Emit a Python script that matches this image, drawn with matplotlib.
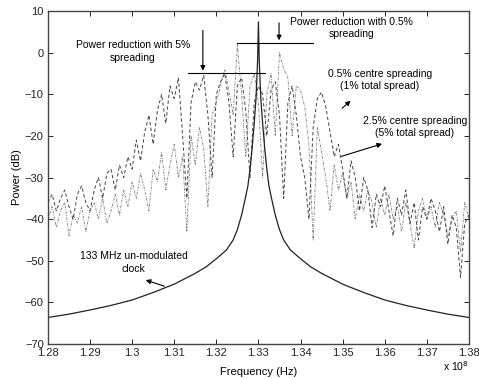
import matplotlib
matplotlib.use("Agg")
import matplotlib.pyplot as plt
import numpy as np

plt.rcParams['font.family'] = ['Liberation Sans', 'DejaVu Sans']

# frequency axis in units of 1e8 Hz
freq = np.round(np.arange(1.280, 1.3805, 0.001), 3)

# dashed trace (wide spreading)
spread_wide = [
    -36, -34, -38, -35, -33, -37, -40, -34, -32, -36, -38,
    -33, -30, -35, -29, -28, -33, -27, -30, -25, -28,
    -21, -26, -19, -15, -22, -14, -10, -17, -8, -11,
    -6, -20, -35, -12, -7, -9, -5.5, -15, -30, -10,
    -7, -5, -12, -25, -8, -6, -14, -30, -12, -8,
    -10, -20, -9, -7, -15, -35, -12, -8, -15, -25,
    -30, -40, -18, -11, -9.5, -13, -19, -25, -22, -28,
    -35, -26, -30, -38, -30, -33, -42, -34, -37, -32,
    -38, -44, -35, -39, -33, -41, -36, -45, -37, -40,
    -35, -38, -43, -37, -46, -39, -42, -54, -41, -39,
]

# dash-dot trace (narrow spreading)
spread_narrow = [
    -40, -37, -42, -38, -36, -44, -39, -41, -37, -43, -38,
    -36, -40, -35, -41, -38, -34, -39, -33, -37, -31,
    -35, -29, -33, -38, -28, -31, -24, -33, -27, -22,
    -30, -25, -43, -20, -27, -18, -23, -37, -15, -12,
    -8, -4, -9, -15, 2, -10, -25, -8, -5, -12,
    -30, -10, -5, -20, 0, -4, -6, -20, -8, -9,
    -13, -22, -45, -18, -24, -30, -38, -27, -33, -29,
    -35, -31, -40, -34, -38, -33, -36, -42, -35, -39,
    -34, -40, -37, -43, -36, -41, -47, -38, -35, -40,
    -37, -42, -36, -39, -44, -40, -38, -48, -36, -40,
]

# un-modulated clock line
clock_freq = [1.280, 1.285, 1.290, 1.295, 1.300, 1.305, 1.310, 1.3150, 1.3175,
              1.3200, 1.3224, 1.3240, 1.3250, 1.3260, 1.3268, 1.3275, 1.3280,
              1.3285, 1.3290, 1.3294, 1.3296, 1.3298, 1.3300, 1.3302, 1.3304,
              1.3306, 1.3310, 1.3315, 1.3320, 1.3325, 1.3332, 1.3340, 1.3350,
              1.3360, 1.3376, 1.3400, 1.3425, 1.3450, 1.3500, 1.3550, 1.3600,
              1.3650, 1.3700, 1.3750, 1.3800]
clock_db = [-63.6, -62.8, -61.8, -60.7, -59.4, -57.6, -55.6, -53.0, -51.5,
            -49.5, -47.4, -45.0, -42.5, -39.0, -35.4, -32.0, -28.0,
            -23.0, -17.0, -11.4, -7.0, -2.0, 7.4, -2.0, -7.0,
            -11.4, -17.0, -23.0, -28.0, -32.0, -35.4, -39.0, -42.5,
            -45.0, -47.4, -49.5, -51.5, -53.0, -55.6, -57.6, -59.4,
            -60.7, -61.8, -62.8, -63.6]

fig = plt.figure(figsize=(4.79, 3.79), dpi=100)
ax = fig.add_axes([0.100, 0.092, 0.879, 0.879])

ax.plot(freq, spread_narrow, linestyle='-.', color='#777777', lw=0.6, dashes=(3, 1.5, 1, 1.5))
ax.plot(freq, spread_wide, linestyle='--', color='#444444', lw=0.7, dashes=(3.5, 2.5))
ax.plot(clock_freq, clock_db, '-', color='#222222', lw=0.9)

ax.set_xlim(1.28, 1.38)
ax.set_ylim(-70, 10)
ax.set_xticks(np.round(np.arange(1.28, 1.3801, 0.01), 2))
ax.set_xticklabels(['1.28', '1.29', '1.3', '1.31', '1.32', '1.33', '1.34',
                    '1.35', '1.36', '1.37', '1.38'])
ax.set_yticks(range(-70, 11, 10))
ax.set_yticklabels(['\u221270', '\u221260', '\u221250', '\u221240', '\u221230',
                    '\u221220', '\u221210', '0', '10'])
ax.tick_params(direction='in', top=True, right=True, length=3.5, width=0.7,
               labelsize=8, colors='#222222', pad=3)
for s in ax.spines.values():
    s.set_color('#444444')
    s.set_linewidth(1.0)

ax.set_xlabel('Frequency (Hz)', fontsize=8, labelpad=6)
ax.set_ylabel('Power (dB)', fontsize=8, labelpad=2)
fig.text(0.952, 0.015, 'x 10$^{8}$', fontsize=7.5, ha='center', va='bottom')

arrow = dict(arrowstyle='-|>', color='black', lw=0.8, mutation_scale=7)
line_kw = dict(color='black', lw=0.8)

# power reduction 5%
ax.plot([1.3133, 1.3315], [-5, -5], **line_kw)
ax.annotate('', xy=(1.3168, -5), xytext=(1.3168, 6), arrowprops=arrow)
ax.text(1.3002, 0.3, 'Power reduction with 5%\nspreading', fontsize=7.5,
        ha='center', va='center', linespacing=1.3)

# power reduction 0.5%
ax.plot([1.3249, 1.3430], [2.3, 2.3], **line_kw)
ax.annotate('', xy=(1.3349, 2.3), xytext=(1.3349, 7.8), arrowprops=arrow)
ax.text(1.3522, 5.9, 'Power reduction with 0.5%\nspreading', fontsize=7.5,
        ha='center', va='center', linespacing=1.3)

ax.annotate('', xy=(1.3524, -11.1), xytext=(1.3494, -13.8), arrowprops=arrow)
ax.text(1.3589, -6.6, '0.5% centre spreading\n(1% total spread)', fontsize=7.5,
        ha='center', va='center', linespacing=1.3)

ax.annotate('', xy=(1.3600, -21.7), xytext=(1.3491, -25.1), arrowprops=arrow)
ax.text(1.3672, -17.9, '2.5% centre spreading\n(5% total spread)', fontsize=7.5,
        ha='center', va='center', linespacing=1.3)

ax.annotate('', xy=(1.3026, -54.4), xytext=(1.3083, -56.3), arrowprops=arrow)
ax.text(1.3004, -50.4, '133 MHz un-modulated\nclock', fontsize=7.5,
        ha='center', va='center', linespacing=1.3)

fig.savefig('out.png', dpi=100)
